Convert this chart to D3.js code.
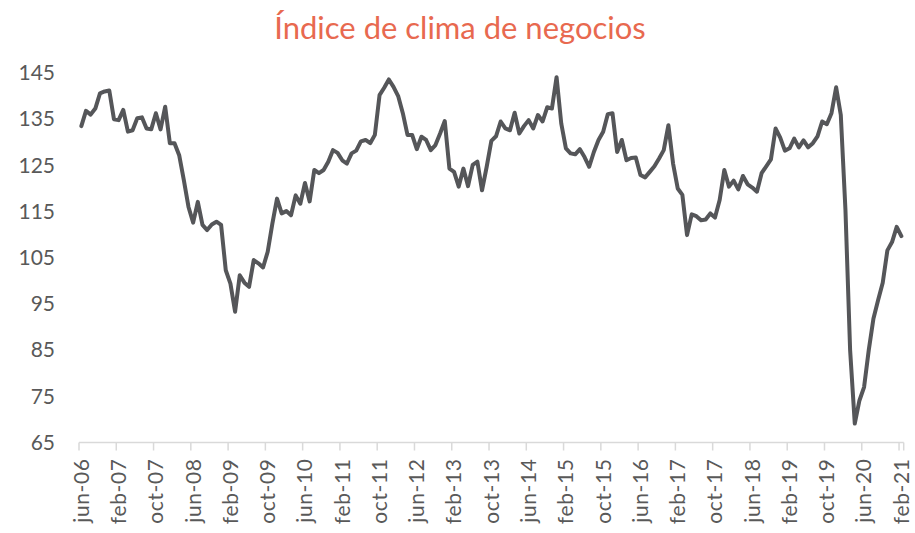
<!DOCTYPE html>
<html>
<head>
<meta charset="utf-8">
<script src="https://cdn.jsdelivr.net/npm/d3@7"></script>
<style>
  body { margin: 0; background: #fff; }
  text { font-family: Lato, 'Open Sans', sans-serif; }
</style>
</head>
<body>
<svg id="chart" width="915" height="533"></svg>
<script>
// Índice de clima de negocios, monthly jun-06 .. feb-21
const monthNames = ['ene', 'feb', 'mar', 'abr', 'may', 'jun', 'jul', 'ago', 'sep', 'oct', 'nov', 'dic']
const months = d3.timeMonth.range(new Date(2006, 5, 1), new Date(2021, 2, 1))
  .map(d => monthNames[d.getMonth()] + '-' + d3.timeFormat('%y')(d))

const values = [
  133.5, 136.8, 136, 137.3, 140.6, 141, 141.2, 135, 134.8, 137, 132.3, 132.6,
  135.2, 135.4, 133, 132.8, 136.3, 132.8, 137.7, 129.8, 129.8, 127.2, 121.8, 116,
  112.6, 117.1, 112.1, 111, 112.2, 112.8, 112.1, 102.3, 99.4, 93.3, 101.2, 99.6,
  98.7, 104.5, 103.8, 102.9, 106.3, 112.4, 117.8, 114.6, 115.1, 114.2, 118.5, 116.7,
  121.2, 117.2, 124, 123.3, 124, 125.8, 128.3, 127.7, 126.1, 125.4, 127.6, 128.2,
  130.2, 130.5, 129.8, 131.6, 140.2, 141.8, 143.6, 142, 140, 136.3, 131.6, 131.6,
  128.5, 131.2, 130.5, 128.3, 129.4, 131.9, 134.6, 124.3, 123.6, 120.4, 124.3, 120.5,
  125.1, 125.8, 119.6, 124.7, 130.3, 131.3, 134.5, 133, 132.6, 136.4, 131.9, 133.5,
  134.8, 133, 135.9, 134.5, 137.6, 137.3, 144.1, 134.1, 128.7, 127.6, 127.4, 128.5,
  126.8, 124.7, 127.9, 130.5, 132.3, 136.1, 136.3, 127.9, 130.5, 126.1, 126.6, 126.7,
  122.9, 122.4, 123.6, 124.8, 126.5, 128.3, 133.7, 125.4, 120, 118.6, 109.9, 114.4,
  114, 113.1, 113.3, 114.6, 113.7, 117.5, 124, 120.4, 121.7, 119.8, 122.7, 120.9,
  120.2, 119.3, 123.3, 124.8, 126.3, 133, 131, 128.2, 128.7, 130.8, 128.9, 130.4,
  128.9, 129.8, 131.3, 134.5, 133.9, 136.3, 141.9, 135.9, 115.3, 85, 69.1, 74.1,
  77, 85, 91.8, 95.8, 99.6, 106.6, 108.4, 111.7, 109.7
]

const yTicks = [65, 75, 85, 95, 105, 115, 125, 135, 145]

const xTickLabels = [
  'jun-06', 'feb-07', 'oct-07', 'jun-08', 'feb-09', 'oct-09', 'jun-10', 'feb-11',
  'oct-11', 'jun-12', 'feb-13', 'oct-13', 'jun-14', 'feb-15', 'oct-15', 'jun-16',
  'feb-17', 'oct-17', 'jun-18', 'feb-19', 'oct-19', 'jun-20', 'feb-21'
]

const data = months.map((m, i) => ({ month: m, value: values[i] }))

const margin = { top: 73, left: 79, right: 11.3, bottom: 90.5 }
const width = 915
const height = 533

const svg = d3.select('#chart')

const x = d3.scaleBand()
  .domain(months)
  .range([margin.left, width - margin.right])
  .paddingInner(0)
  .paddingOuter(0)

const y = d3.scaleLinear()
  .domain([65, 145])
  .range([height - margin.bottom, margin.top])

// title
svg.append('text')
  .attr('x', 460)
  .attr('y', 39)
  .attr('text-anchor', 'middle')
  .attr('fill', '#e8694f')
  .style('font-size', '31px')
  .text('Índice de clima de negocios')

// y axis, labels only
const yAxis = d3.axisLeft(y)
  .tickValues(yTicks)
  .tickSize(0)
  .tickPadding(24)

svg.append('g')
  .attr('transform', 'translate(' + margin.left + ',0)')
  .call(yAxis)
  .call(g => g.select('.domain').remove())
  .selectAll('text')
  .attr('fill', '#595959')
  .style('font-size', '21px')
  .style('font-family', 'Lato, sans-serif')

// x axis: line + ticks at category boundaries, labels centered on category
const axisY = y(65)
const xAxis = svg.append('g').attr('class', 'axis x')

xAxis.append('line')
  .attr('x1', x.range()[0])
  .attr('x2', x.range()[1])
  .attr('y1', axisY)
  .attr('y2', axisY)
  .attr('stroke', '#d9d9d9')
  .attr('stroke-width', 1.5)

const tickXs = xTickLabels.map(l => x(l)).concat([x.range()[1]])
xAxis.selectAll('.tick')
  .data(tickXs)
  .enter()
  .append('line')
  .attr('class', 'tick')
  .attr('x1', d => d)
  .attr('x2', d => d)
  .attr('y1', axisY)
  .attr('y2', axisY + 8)
  .attr('stroke', '#d9d9d9')
  .attr('stroke-width', 1.5)

xAxis.selectAll('.label')
  .data(xTickLabels)
  .enter()
  .append('text')
  .attr('class', 'label')
  .attr('transform', d => 'translate(' + (x(d) + x.bandwidth() / 2) + ',' + (axisY + 16) + ') rotate(-90)')
  .attr('dy', '0.35em')
  .attr('text-anchor', 'end')
  .attr('fill', '#595959')
  .style('font-size', '21px')
  .style('letter-spacing', '0.6px')
  .text(d => d)

// series line
const line = d3.line()
  .x(d => x(d.month) + x.bandwidth() / 2)
  .y(d => y(d.value))

svg.append('path')
  .datum(data)
  .attr('d', line)
  .attr('fill', 'none')
  .attr('stroke', '#555659')
  .attr('stroke-width', 4)
  .attr('stroke-linejoin', 'round')
  .attr('stroke-linecap', 'round')
</script>
</body>
</html>
